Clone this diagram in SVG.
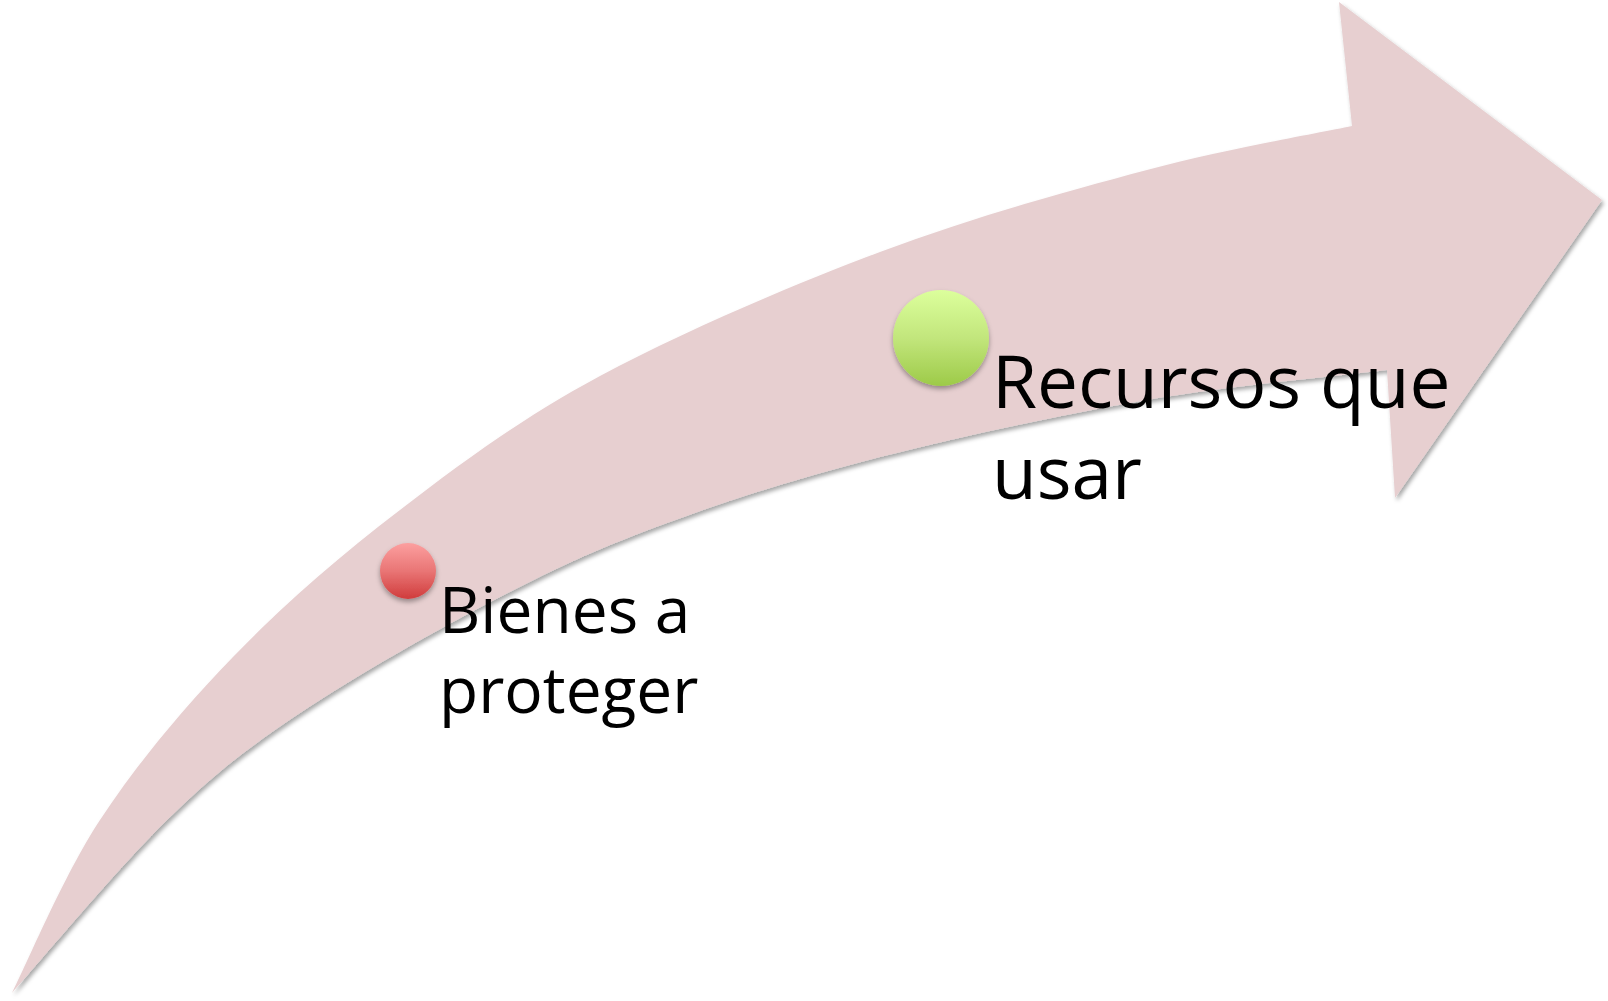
<svg xmlns="http://www.w3.org/2000/svg" width="1608" height="1001" viewBox="0 0 1608 1001">
  <style>
    .lbl { font-family: "Open Sans", "Liberation Sans", sans-serif; fill: #000000; }
  </style>
  <defs>
    <filter id="shadow" x="-10%" y="-10%" width="120%" height="120%">
      <feDropShadow dx="2" dy="3" stdDeviation="2.2" flood-color="#000000" flood-opacity="0.35"/>
    </filter>
    <filter id="cshadow" x="-30%" y="-30%" width="160%" height="160%">
      <feDropShadow dx="0" dy="3" stdDeviation="2.5" flood-color="#000000" flood-opacity="0.35"/>
    </filter>
    <linearGradient id="redGrad" x1="0" y1="0" x2="0" y2="1">
      <stop offset="0" stop-color="#fc9f9f"/>
      <stop offset="0.5" stop-color="#e97575"/>
      <stop offset="1" stop-color="#d03c3c"/>
    </linearGradient>
    <linearGradient id="greenGrad" x1="0" y1="0" x2="0" y2="1">
      <stop offset="0" stop-color="#dcff9c"/>
      <stop offset="0.5" stop-color="#c2e67c"/>
      <stop offset="1" stop-color="#9dca48"/>
    </linearGradient>
  </defs>
  <rect width="1608" height="1001" fill="#ffffff"/>

  <g id="arrow">
    <path d="M 12,993
             C 26.7,964.2 63.2,876 100,820
             C 136.8,764 183,708.7 233,657
             C 283,605.3 338.8,556.8 400,510
             C 461.2,463.2 520,419 600,376
             C 680,333 788.8,286.3 880,252
             C 971.2,217.7 1068.3,191 1147,170
             C 1225.7,149 1317.8,133.3 1352,126
             L 1339,2 L 1602,200 L 1395,498 L 1387,370
             C 1347,375 1231.5,385.5 1147,400
             C 1062.5,414.5 960,436.5 880,457
             C 800,477.5 730.3,499.7 667,523
             C 603.7,546.3 561.2,565.3 500,597
             C 438.8,628.7 355.5,675.8 300,713
             C 244.5,750.2 215,773.3 167,820
             C 119,866.7 37.8,964.2 12,993 Z" fill="#e7cfd0" filter="url(#shadow)"/>
  </g>

  <g id="connectors"></g>

  <g id="node-bienes">
    <circle cx="408" cy="571" r="28" fill="url(#redGrad)" filter="url(#cshadow)"/>
    <text class="lbl" x="439" y="633" font-size="64">Bienes a</text>
    <text class="lbl" x="439" y="713" font-size="64">proteger</text>
  </g>

  <g id="node-recursos">
    <circle cx="941" cy="338" r="48" fill="url(#greenGrad)" filter="url(#cshadow)"/>
    <text class="lbl" x="992" y="408" font-size="73">Recursos que</text>
    <text class="lbl" x="992" y="499" font-size="73">usar</text>
  </g>
</svg>
